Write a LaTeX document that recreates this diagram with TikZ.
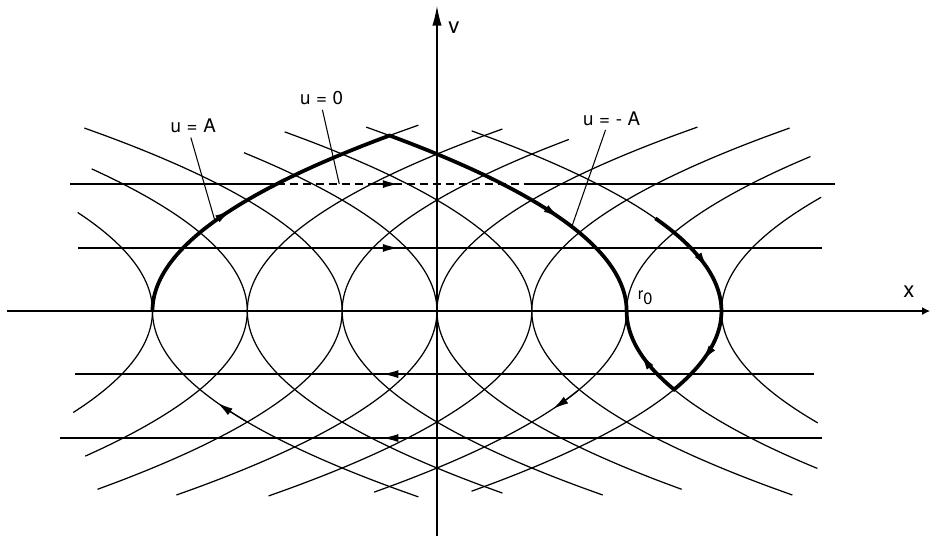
\documentclass[tikz,border=0pt]{standalone}
\usepackage{fontspec}
\setmainfont{TeX Gyre Heros}
\usetikzlibrary{arrows.meta}

\newcommand{\kpar}{0.73}
\newcommand{\lsp}{\hspace{0.3em}}

\begin{document}
\begin{tikzpicture}[x=2.845cm, y=2.845cm,
  >=Latex,
  axis/.style={line width=1.2pt},
  curve/.style={line width=1.05pt, smooth, samples=40},
  traj/.style={line width=3.2pt, smooth, samples=50},
  level/.style={line width=1.05pt},
  tip/.style={line width=1.05pt, smooth, samples=6,
              -{Latex[length=4.6mm,width=2.4mm]}},
  lead/.style={line width=0.9pt},
  lbl/.style={font=\fontsize{16}{18}\selectfont, inner sep=1pt},
  axlbl/.style={font=\fontsize{19}{21}\selectfont, inner sep=0pt},
]
\useasboundingbox (-4.608,-2.394) rectangle (5.220,3.280);

% Axes
\draw[axis, -{Latex[length=2.4mm,width=2.4mm]}] (-4.534,0) -- (5.20,0);
\draw[axis, -{Latex[length=6mm,width=2.8mm]}] (0,-2.37) -- (0,3.22);
\node[axlbl] (xlbl) at (4.977,0.20) {x};
\node[axlbl] (vlbl) at (0.179,2.984) {v};

% Parabolas u = -A (opening to the left)
\foreach \a/\ylo/\yhi in {-3/-1.07/1.04, -2/-1.53/1.50, -1/-1.88/1.93,
                          0/-1.94/1.67, 1/-1.95/1.89, 2/-1.91/1.94, 3/-1.90/1.90}
  \draw[curve] plot[domain=\ylo:\yhi] ({\a-\kpar*\x*\x},\x);

% Parabolas u = A (opening to the right)
\foreach \a/\ylo/\yhi in {-3/-1.96/1.96, -2/-1.92/1.92, -1/-1.94/1.81,
                          0/-1.88/1.94, 1/-1.94/1.93, 2/-1.66/1.63, 3/-1.18/1.20}
  \draw[curve] plot[domain=\ylo:\yhi] ({\a+\kpar*\x*\x},\x);

% Trajectories u = 0
\draw[level] (-3.870,1.339) -- (-1.691,1.339);
\draw[level, dash pattern=on 2.4mm off 1.5mm] (-1.691,1.339) -- (1.0,1.339);
\draw[level] (1.0,1.339) -- (4.197,1.339);
\draw[level] (-3.786,0.665) -- (4.060,0.665);
\draw[level] (-3.818,-0.665) -- (3.976,-0.665);
\draw[level] (-3.976,-1.339) -- (4.060,-1.339);

% Optimal trajectories to r0
\draw[traj] plot[domain=0:1.8506] ({-3+\kpar*\x*\x},\x)
  -- plot[domain=1.8506:0] ({2-\kpar*\x*\x},\x);
\draw[traj] plot[domain=0.977:-0.8276] ({3-\kpar*\x*\x},\x)
  -- plot[domain=-0.8276:0] ({2+\kpar*\x*\x},\x);

% Direction arrows
\draw[tip] plot[domain=0.88:1.06] ({-3+\kpar*\x*\x},\x);
\draw[tip] plot[domain=1.17:0.99] ({2-\kpar*\x*\x},\x);
\draw[tip] plot[domain=0.66:0.46] ({3-\kpar*\x*\x},\x);
\draw[tip] plot[domain=-0.30:-0.52] ({3-\kpar*\x*\x},\x);
\draw[tip] plot[domain=-0.68:-0.46] ({2+\kpar*\x*\x},\x);
\draw[tip] plot[domain=-1.16:-0.97] ({-3+\kpar*\x*\x},\x);
\draw[tip] plot[domain=-0.84:-1.03] ({2-\kpar*\x*\x},\x);
\draw[tip] (-0.64,1.339) -- (-0.41,1.339);
\draw[tip] (-0.64,0.665) -- (-0.41,0.665);
\draw[tip] (-0.34,-0.665) -- (-0.57,-0.665);
\draw[tip] (-0.34,-1.339) -- (-0.57,-1.339);

% Labels
\node[lbl] (uA) at (-2.570,1.951) {u\lsp=\lsp A};
\node[lbl] (uzero) at (-1.216,2.243) {u\lsp=\lsp 0};
\node[lbl] (umA) at (1.842,2.032) {u\lsp=\lsp-\lsp A};
\node[font=\fontsize{14}{15}\selectfont, inner sep=0pt] (rzero) at (2.195,0.137)
  {r\raisebox{-0.55ex}{0}};

\coordinate (onA) at ({-3+\kpar*0.95*0.95},0.95);
\coordinate (onzero) at (-1.03,1.339);
\coordinate (onmA) at ({2-\kpar*0.89*0.89},0.89);
\draw[lead, shorten <=1mm] ([xshift=-1mm]uA.south) -- (onA);
\draw[lead, shorten <=1mm] (uzero.south) -- (onzero);
\draw[lead, shorten <=1mm] ([xshift=-1.5mm]umA.south) -- (onmA);

\end{tikzpicture}
\end{document}
